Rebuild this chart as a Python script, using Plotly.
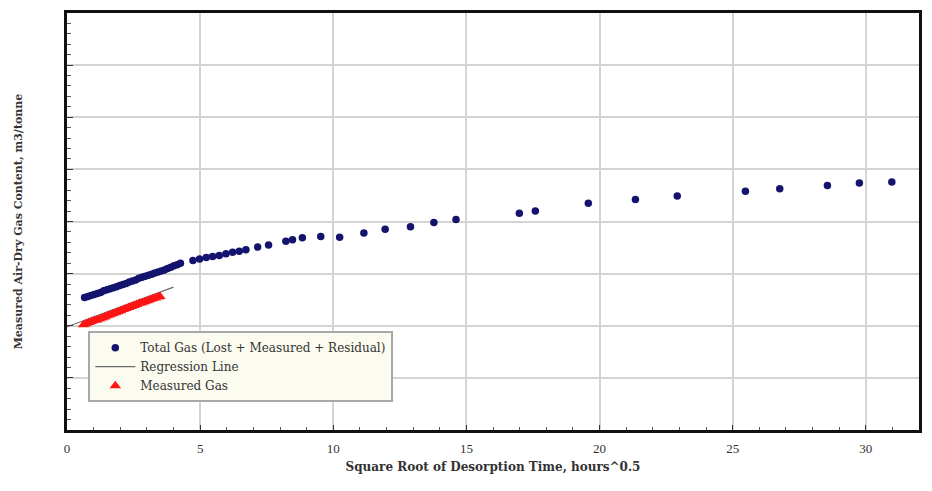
import plotly.graph_objects as go

# Total gas (lost + measured + residual) versus square root of desorption time
total_x = [0.66, 0.78, 0.90, 1.02, 1.14, 1.26, 1.38, 1.50, 1.62, 1.74, 1.86, 1.98,
           2.10, 2.22, 2.34, 2.46, 2.58, 2.70, 2.82, 2.94, 3.06, 3.18, 3.30, 3.42,
           3.54, 3.66, 3.78, 3.90, 4.02, 4.14, 4.26,
           4.73, 4.98, 5.23, 5.47, 5.72, 5.97, 6.22, 6.47, 6.72, 7.16, 7.57, 8.22,
           8.47, 8.84, 9.53, 10.24, 11.15, 11.95, 12.90, 13.78, 14.61, 16.99, 17.59,
           19.58, 21.35, 22.92, 25.48, 26.77, 28.56, 29.76, 30.98]
total_y = [2.54, 2.56, 2.58, 2.60, 2.62, 2.64, 2.67, 2.69, 2.71, 2.73, 2.75, 2.77,
           2.79, 2.81, 2.84, 2.86, 2.88, 2.91, 2.93, 2.95, 2.97, 2.99, 3.01, 3.03,
           3.05, 3.07, 3.10, 3.12, 3.15, 3.17, 3.20,
           3.25, 3.28, 3.31, 3.33, 3.35, 3.38, 3.41, 3.43, 3.46, 3.51, 3.55, 3.62,
           3.65, 3.69, 3.71, 3.70, 3.78, 3.85, 3.90, 3.98, 4.04, 4.16, 4.20,
           4.35, 4.42, 4.49, 4.58, 4.63, 4.69, 4.74, 4.76]

# Measured gas (early desorption readings)
meas_x = [0.62, 0.72, 0.82, 0.92, 1.02, 1.12, 1.22, 1.32, 1.42, 1.52, 1.62, 1.72,
          1.82, 1.92, 2.02, 2.12, 2.22, 2.32, 2.42, 2.52, 2.62, 2.72, 2.82, 2.92,
          3.02, 3.12, 3.22, 3.32, 3.42, 3.49]
meas_y = [2.02, 2.04, 2.06, 2.08, 2.10, 2.11, 2.13, 2.15, 2.17, 2.19, 2.21, 2.23,
          2.25, 2.27, 2.29, 2.31, 2.33, 2.35, 2.37, 2.39, 2.41, 2.43, 2.44, 2.46,
          2.48, 2.50, 2.52, 2.53, 2.55, 2.56]

# Regression line end points
reg_x = [0.0, 4.0]
reg_y = [1.98, 2.74]

x_ticks = [0, 5, 10, 15, 20, 25, 30]

serif = "Liberation Serif, Times New Roman, serif"
wide_serif = "DejaVu Serif, serif"

fig = go.Figure()
fig.add_trace(go.Scatter(
    x=total_x, y=total_y, mode="markers",
    name="Total Gas (Lost + Measured + Residual)",
    marker=dict(symbol="circle", size=7.5, color="#14146e"),
))
fig.add_trace(go.Scatter(
    x=reg_x, y=reg_y, mode="lines", name="Regression Line",
    line=dict(color="#6a6a6a", width=1.2),
))
fig.add_trace(go.Scatter(
    x=meas_x, y=meas_y, mode="markers", name="Measured Gas",
    marker=dict(symbol="triangle-up", size=10, color="#ff1414"),
))

fig.update_layout(
    width=932, height=491,
    margin=dict(l=67, r=10, t=12, b=61),
    paper_bgcolor="white", plot_bgcolor="white",
    font=dict(family=serif, size=12, color="#333333"),
    showlegend=True,
    legend=dict(
        x=0.025, y=0.237, xanchor="left", yanchor="top",
        bgcolor="#fbfbf0", bordercolor="#a8a8a8", borderwidth=2,
        font=dict(family=wide_serif, size=12, color="#333333"),
        itemwidth=40, tracegroupgap=0,
    ),
    xaxis=dict(
        range=[0, 32], tickvals=x_ticks, ticktext=[str(v) for v in x_ticks],
        showgrid=True, gridcolor="#d4d4d4", gridwidth=1.5,
        showline=True, linecolor="#111111", linewidth=2.5, mirror=True,
        ticks="inside", ticklen=5, tickcolor="#333333",
        minor=dict(dtick=1, ticks="inside", ticklen=3, tickcolor="#555555", showgrid=False),
        zeroline=False, ticklabelstandoff=5,
        tickfont=dict(family=serif, size=13, color="#333333"),
        title=dict(text="<b>Square Root of Desorption Time, hours^0.5</b>",
                   font=dict(family=wide_serif, size=12, color="#333333"), standoff=8),
    ),
    yaxis=dict(
        range=[0, 8], dtick=1, showticklabels=False,
        showgrid=True, gridcolor="#d4d4d4", gridwidth=1.5,
        showline=True, linecolor="#111111", linewidth=2.5, mirror=True,
        ticks="inside", ticklen=6, tickcolor="#333333",
        minor=dict(dtick=0.2, ticks="inside", ticklen=4, tickcolor="#555555", showgrid=False),
        zeroline=False,
        title=dict(text="<b>Measured Air-Dry Gas Content, m3/tonne</b>",
                   font=dict(family=wide_serif, size=11, color="#333333"), standoff=40),
    ),
)

fig.write_html("out.html")
